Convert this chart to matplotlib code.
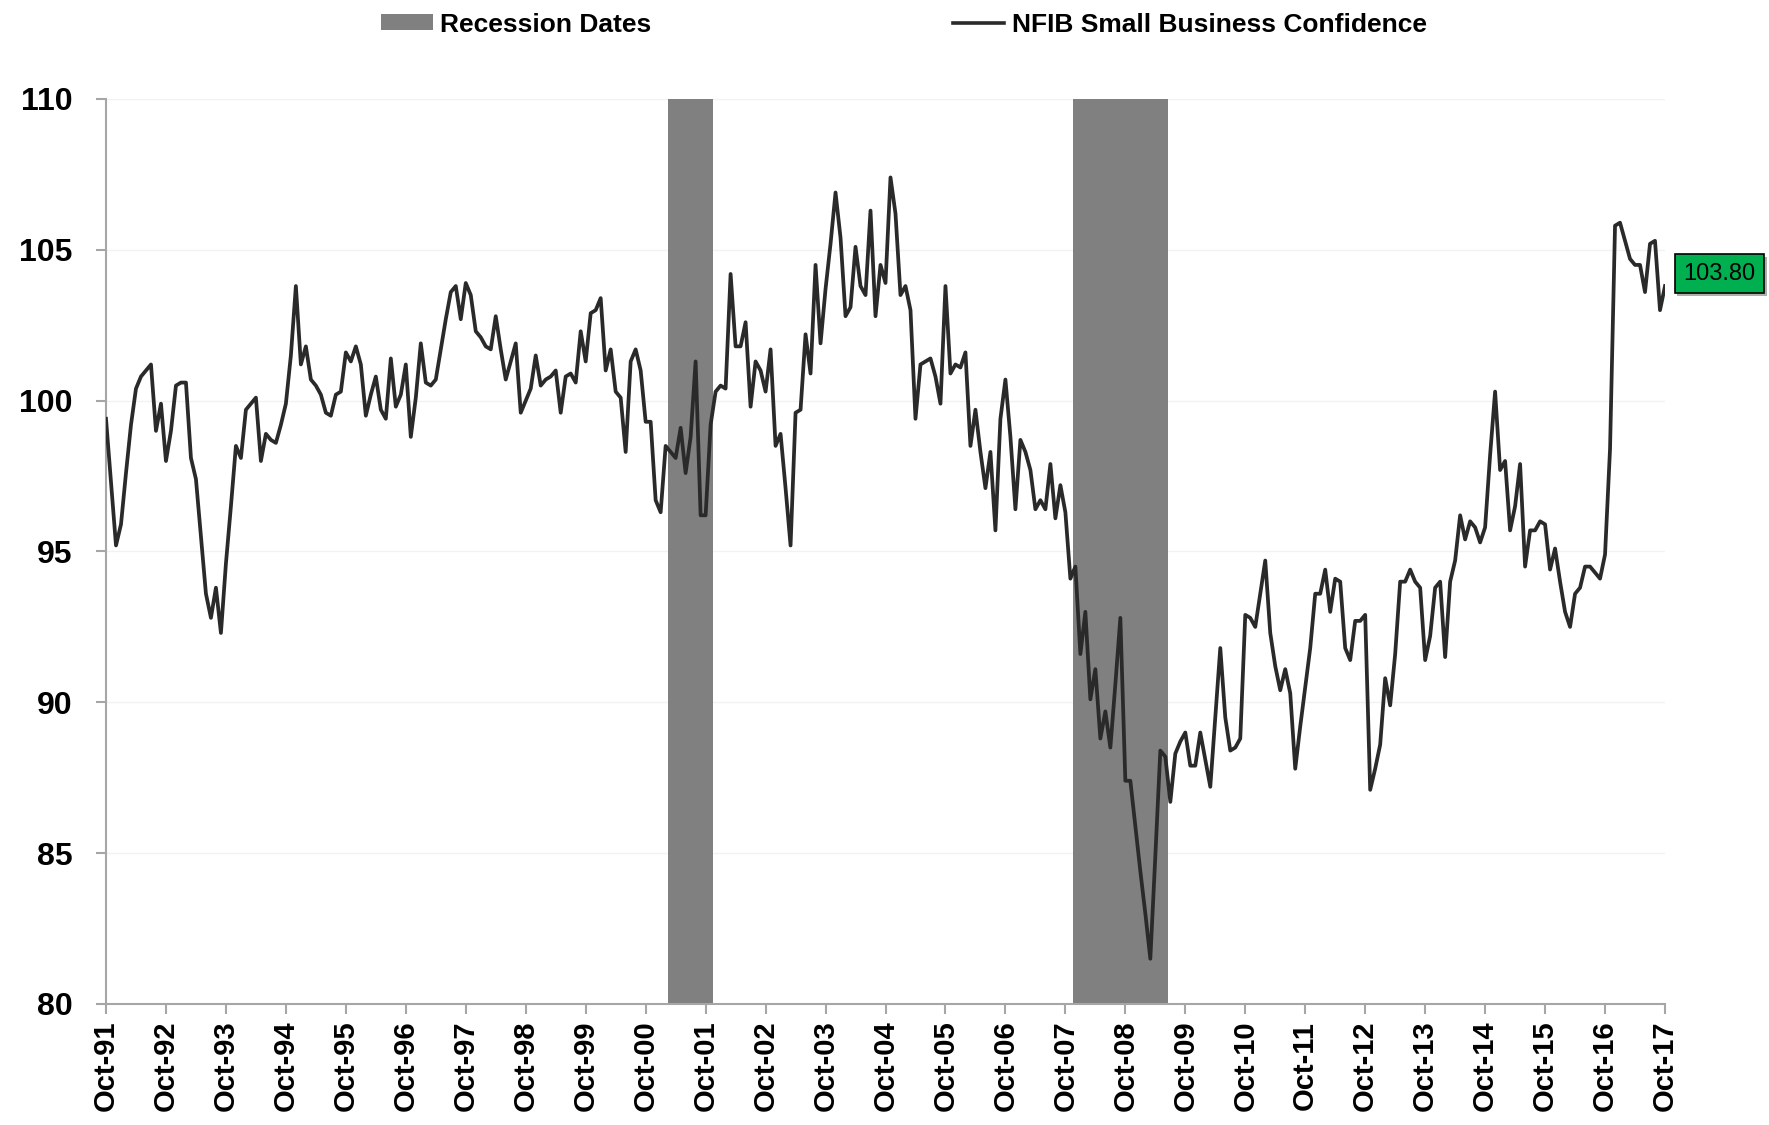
#!/usr/bin/env python3
"""NFIB Small Business Confidence with recession shading, Oct-91 .. Oct-17 (monthly)."""

import matplotlib
matplotlib.use("Agg")
import matplotlib.pyplot as plt
import numpy as np
import pandas as pd
from matplotlib.lines import Line2D
from matplotlib.patches import Patch

plt.rcParams["font.family"] = ["Liberation Sans", "DejaVu Sans"]

# monthly index, Oct 1991 .. Oct 2017
months = pd.period_range("1991-10", "2017-10", freq="M")

# values, one row per Oct..Sep year
confidence = [
    99.4, 97.3, 95.2, 95.9, 97.6, 99.2, 100.4, 100.8, 101.0, 101.2, 99.0, 99.9,
    98.0, 99.0, 100.5, 100.6, 100.6, 98.1, 97.4, 95.5, 93.6, 92.8, 93.8, 92.3,
    94.6, 96.5, 98.5, 98.1, 99.7, 99.9, 100.1, 98.0, 98.9, 98.7, 98.6, 99.2,
    99.9, 101.5, 103.8, 101.2, 101.8, 100.7, 100.5, 100.2, 99.6, 99.5, 100.2, 100.3,
    101.6, 101.3, 101.8, 101.2, 99.5, 100.2, 100.8, 99.7, 99.4, 101.4, 99.8, 100.2,
    101.2, 98.8, 100.1, 101.9, 100.6, 100.5, 100.7, 101.7, 102.7, 103.6, 103.8, 102.7,
    103.9, 103.5, 102.3, 102.1, 101.8, 101.7, 102.8, 101.7, 100.7, 101.3, 101.9, 99.6,
    100.0, 100.4, 101.5, 100.5, 100.7, 100.8, 101.0, 99.6, 100.8, 100.9, 100.6, 102.3,
    101.3, 102.9, 103.0, 103.4, 101.0, 101.7, 100.3, 100.1, 98.3, 101.3, 101.7, 101.0,
    99.3, 99.3, 96.7, 96.3, 98.5, 98.3, 98.1, 99.1, 97.6, 98.8, 101.3, 96.2,
    96.2, 99.2, 100.3, 100.5, 100.4, 104.2, 101.8, 101.8, 102.6, 99.8, 101.3, 101.0,
    100.3, 101.7, 98.5, 98.9, 97.1, 95.2, 99.6, 99.7, 102.2, 100.9, 104.5, 101.9,
    103.7, 105.2, 106.9, 105.4, 102.8, 103.1, 105.1, 103.8, 103.5, 106.3, 102.8, 104.5,
    103.9, 107.4, 106.2, 103.5, 103.8, 103.0, 99.4, 101.2, 101.3, 101.4, 100.8, 99.9,
    103.8, 100.9, 101.2, 101.1, 101.6, 98.5, 99.7, 98.3, 97.1, 98.3, 95.7, 99.4,
    100.7, 98.8, 96.4, 98.7, 98.3, 97.7, 96.4, 96.7, 96.4, 97.9, 96.1, 97.2,
    96.3, 94.1, 94.5, 91.6, 93.0, 90.1, 91.1, 88.8, 89.7, 88.5, 90.6, 92.8,
    87.4, 87.4, 85.9, 84.4, 83.0, 81.5, 84.9, 88.4, 88.2, 86.7, 88.3, 88.7,
    89.0, 87.9, 87.9, 89.0, 88.1, 87.2, 89.5, 91.8, 89.5, 88.4, 88.5, 88.8,
    92.9, 92.8, 92.5, 93.6, 94.7, 92.3, 91.2, 90.4, 91.1, 90.3, 87.8, 89.2,
    90.5, 91.8, 93.6, 93.6, 94.4, 93.0, 94.1, 94.0, 91.8, 91.4, 92.7, 92.7,
    92.9, 87.1, 87.8, 88.6, 90.8, 89.9, 91.6, 94.0, 94.0, 94.4, 94.0, 93.8,
    91.4, 92.2, 93.8, 94.0, 91.5, 94.0, 94.7, 96.2, 95.4, 96.0, 95.8, 95.3,
    95.8, 98.2, 100.3, 97.7, 98.0, 95.7, 96.5, 97.9, 94.5, 95.7, 95.7, 96.0,
    95.9, 94.4, 95.1, 94.0, 93.0, 92.5, 93.6, 93.8, 94.5, 94.5, 94.3, 94.1,
    94.9, 98.4, 105.8, 105.9, 105.3, 104.7, 104.5, 104.5, 103.6, 105.2, 105.3, 103.0,
    103.8,
]

# NBER recessions (first and last month)
recession_starts = ["2001-03", "2007-12"]
recession_ends = ["2001-11", "2009-06"]

y_ticks = [80, 85, 90, 95, 100, 105, 110]

LINE_COLOR = "#2a2a2a"
SHADE_COLOR = "#808080"
AXIS_COLOR = "#a6a6a6"

x = np.arange(len(months))

fig = plt.figure(figsize=(17.69, 11.25), dpi=100)
W, H = 1769, 1125
ax = fig.add_axes([106 / W, 1 - 1004 / H, (1665 - 106) / W, (1004 - 99) / H])

for s, e in zip(recession_starts, recession_ends):
    i0 = months.get_loc(pd.Period(s, freq="M"))
    i1 = months.get_loc(pd.Period(e, freq="M"))
    ax.axvspan(i0 - 0.5, i1 + 0.5, color=SHADE_COLOR, lw=0, zorder=1)

ax.plot(x, confidence, color=LINE_COLOR, lw=2.7, zorder=3)

ax.set_xlim(0, len(months) - 1)
ax.set_ylim(80, 110)
ax.set_yticks(y_ticks)
ax.set_yticklabels([str(v) for v in y_ticks], fontsize=23, fontweight="bold")

oct_idx = [i for i, p in enumerate(months) if p.month == 10]
ax.set_xticks(oct_idx)
ax.set_xticklabels([months[i].strftime("%b-%y") for i in oct_idx],
                   rotation=90, fontsize=21, fontweight="bold")

ax.yaxis.grid(True, color="#f2f2f2", lw=1)
ax.set_axisbelow(True)

for side in ("top", "right"):
    ax.spines[side].set_visible(False)
for side in ("left", "bottom"):
    ax.spines[side].set_color(AXIS_COLOR)
    ax.spines[side].set_linewidth(1.5)

ax.tick_params(axis="both", direction="out", color=AXIS_COLOR, width=1.5, length=7)
ax.tick_params(axis="y", pad=17)
ax.tick_params(axis="x", pad=5)

# last value tag
last = confidence[-1]
tag_kw = dict(xy=(x[-1], last), xycoords="data", textcoords="offset points",
              ha="center", va="center", fontsize=17, annotation_clip=False)
ax.annotate(f"{last:.2f}", xytext=(41, 7), color="#8c8c8c",
            bbox=dict(boxstyle="square,pad=0.36", fc="#8c8c8c", ec="none", alpha=0.7),
            zorder=4, **tag_kw)
ax.annotate(f"{last:.2f}", xytext=(39, 9), color="black",
            bbox=dict(boxstyle="square,pad=0.36", fc="#00b050", ec="black", lw=1.2),
            zorder=5, **tag_kw)

handles = [Patch(facecolor=SHADE_COLOR, edgecolor="none"),
           Line2D([], [], color=LINE_COLOR, lw=2.6)]
fig.legend(handles, ["Recession Dates", "NFIB Small Business Confidence"],
           loc="center", bbox_to_anchor=(0.511, 0.978), ncol=2, frameon=False,
           prop=dict(weight="bold", size=19), columnspacing=11.4,
           handlelength=1.95, handletextpad=0.3, handleheight=0.55)

fig.savefig("out.png", dpi=100)
plt.close(fig)
